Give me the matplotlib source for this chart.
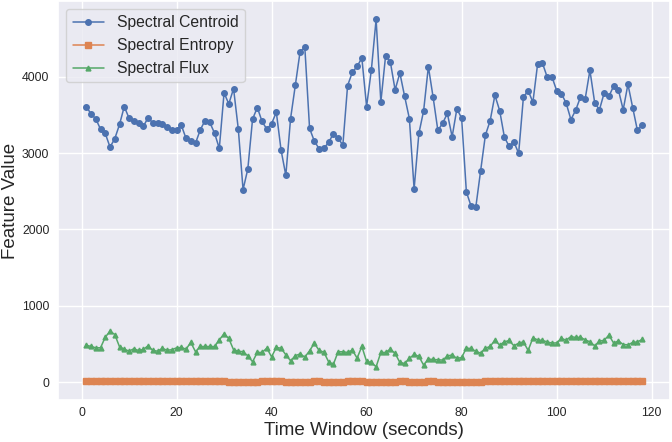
import matplotlib
matplotlib.use("Agg")
import matplotlib.pyplot as plt
import seaborn as sns

# time windows (seconds)
time_window = list(range(1, 119))

spectral_centroid = [
    3612, 3516, 3451, 3316, 3259, 3081, 3190, 3377, 3612, 3460,
    3429, 3394, 3351, 3464, 3399, 3399, 3386, 3346, 3298, 3307,
    3368, 3194, 3155, 3133, 3307, 3429, 3403, 3264, 3063, 3791,
    3647, 3847, 3316, 2523, 2793, 3447, 3599, 3416, 3316, 3386,
    3538, 3041, 2710, 3455, 3891, 4331, 4388, 3325, 3159, 3059,
    3063, 3142, 3255, 3203, 3102, 3887, 4061, 4139, 4248, 3612,
    4092, 4754, 3673, 4279, 4196, 3830, 4052, 3747, 3455, 2531,
    3259, 3556, 4135, 3734, 3298, 3394, 3521, 3216, 3582, 3460,
    2492, 2305, 2301, 2771, 3237, 3425, 3760, 3560, 3212, 3089,
    3150, 2998, 3734, 3821, 3669, 4174, 4183, 4000, 4004, 3821,
    3782, 3656, 3442, 3564, 3734, 3712, 4087, 3664, 3569, 3791,
    3747, 3882, 3830, 3569, 3904, 3599, 3298, 3373,
]

spectral_entropy = [
    8, 8, 8, 8, 8, 8, 8, 8, 8, 8,
    8, 8, 8, 8, 8, 8, 8, 8, 8, 8,
    8, 8, 8, 8, 8, 8, 8, 8, 8, 8,
    2, 2, 2, 2, 2, 2, 2, 8, 8, 8,
    8, 8, 3, 3, 3, 3, 3, 3, 8, 8,
    3, 3, 3, 3, 3, 8, 8, 8, 8, 4,
    4, 4, 4, 4, 4, 4, 8, 8, 4, 4,
    4, 4, 8, 8, 4, 4, 6, 2, 2, 4,
    2, 6, 6, 2, 8, 8, 8, 8, 8, 8,
    8, 8, 8, 8, 8, 8, 8, 8, 8, 8,
    8, 8, 8, 8, 8, 8, 8, 8, 8, 8,
    8, 8, 8, 8, 8, 8, 8, 8,
]

spectral_flux = [
    484, 466, 449, 449, 588, 667, 623, 462, 431, 405,
    436, 414, 427, 475, 414, 405, 440, 418, 423, 449,
    453, 431, 519, 397, 466, 466, 466, 466, 553, 632,
    571, 423, 405, 397, 344, 266, 388, 388, 444, 331,
    453, 444, 357, 279, 344, 370, 327, 410, 510, 414,
    392, 266, 231, 397, 397, 388, 418, 314, 466, 270,
    257, 200, 388, 388, 431, 375, 257, 244, 309, 362,
    336, 222, 301, 296, 292, 288, 340, 357, 309, 322,
    444, 440, 401, 379, 444, 466, 549, 484, 527, 545,
    475, 510, 527, 414, 579, 553, 545, 527, 510, 514,
    571, 549, 597, 584, 588, 553, 527, 475, 536, 549,
    614, 510, 540, 492, 488, 519, 527, 558,
]

sns.set_theme(style="darkgrid")
plt.rcParams['font.family'] = ['Liberation Sans', 'DejaVu Sans']

fig = plt.figure(figsize=(6.72, 4.42), dpi=100)
fig.subplots_adjust(left=0.087, right=0.997, bottom=0.095, top=0.997)
ax = fig.add_subplot()

ax.plot(time_window, spectral_centroid, marker="o", markersize=4, linewidth=1.1,
        color="#4C72B0", label="Spectral Centroid")
ax.plot(time_window, spectral_entropy, marker="s", markersize=4.2, linewidth=1.1,
        color="#DD8452", label="Spectral Entropy")
ax.plot(time_window, spectral_flux, marker="^", markersize=3.5, linewidth=1.1,
        color="#55A868", label="Spectral Flux")

ax.set_xlabel("Time Window (seconds)", fontsize=13.5, labelpad=2)
ax.set_ylabel("Feature Value", fontsize=13.5, labelpad=2.5)
ax.tick_params(axis="x", labelsize=8.8, length=0, pad=5)
ax.tick_params(axis="y", labelsize=8.8, length=0, pad=6.5)
ax.legend(loc="upper left", fontsize=11.3)

fig.savefig("out.png", dpi=100)
